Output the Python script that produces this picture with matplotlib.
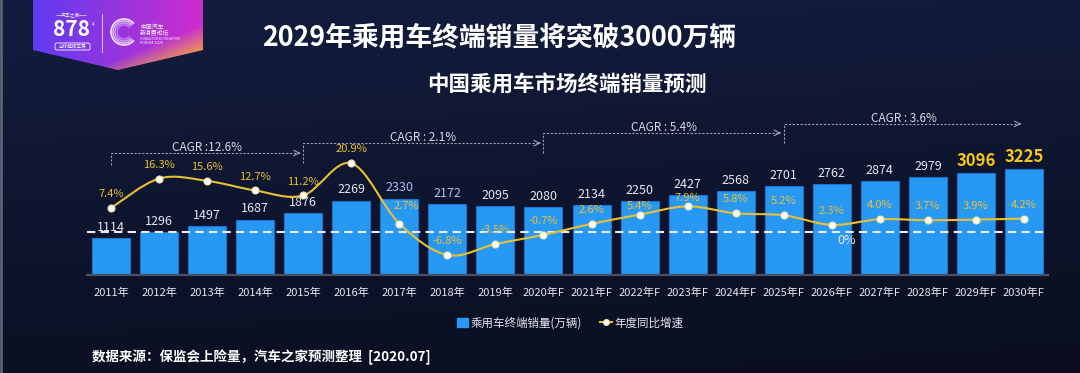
import numpy as np
import matplotlib.pyplot as plt
from matplotlib.path import Path
from matplotlib.patches import PathPatch, Polygon, Arc, FancyBboxPatch, Patch
from matplotlib.lines import Line2D

plt.rcParams['font.family'] = ['Noto Sans CJK SC', 'DejaVu Sans']

years = ["2011年", "2012年", "2013年", "2014年", "2015年", "2016年", "2017年",
         "2018年", "2019年", "2020年F", "2021年F", "2022年F", "2023年F", "2024年F",
         "2025年F", "2026年F", "2027年F", "2028年F", "2029年F", "2030年F"]
sales = [1114, 1296, 1497, 1687, 1876, 2269, 2330, 2172, 2095, 2080,
         2134, 2250, 2427, 2568, 2701, 2762, 2874, 2979, 3096, 3225]
growth = [7.4, 16.3, 15.6, 12.7, 11.2, 20.9, 2.7, -6.8, -3.5, -0.7,
          2.6, 5.4, 7.9, 5.8, 5.2, 2.3, 4.0, 3.7, 3.9, 4.2]
cagr_labels = ["CAGR :12.6%", "CAGR : 2.1%", "CAGR : 5.4%", "CAGR : 3.6%"]
cagr_from = [0, 4, 9, 14]
cagr_to = [4, 9, 14, 19]

W, H = 1080, 373
BAR = '#2898f5'
GOLD = '#e8c033'
TXT = '#e4e7ee'


def px(x, y):
    return x / W, 1 - y / H


def smooth_path(xs, ys):
    # excel-like smoothed line: catmull-rom as cubic bezier
    pts = list(zip(xs, ys))
    n = len(pts)
    verts = [pts[0]]
    codes = [Path.MOVETO]
    for i in range(n - 1):
        p0 = pts[max(i - 1, 0)]
        p1 = pts[i]
        p2 = pts[i + 1]
        p3 = pts[min(i + 2, n - 1)]
        c1 = (p1[0] + (p2[0] - p0[0]) / 6, p1[1] + (p2[1] - p0[1]) / 6)
        c2 = (p2[0] - (p3[0] - p1[0]) / 6, p2[1] - (p3[1] - p1[1]) / 6)
        verts += [c1, c2, p2]
        codes += [Path.CURVE4] * 3
    return Path(verts, codes)


fig = plt.figure(figsize=(W / 100, H / 100), dpi=100)

# background + logo, drawn in pixel coordinates
bg = fig.add_axes([0, 0, 1, 1], zorder=-5)
bg.set_xlim(0, W)
bg.set_ylim(H, 0)
bg.axis('off')
gy = np.linspace(0, 1, 200)[:, None]
gx = np.linspace(0, 1, 300)[None, :]
top = np.array([19, 29, 63]) / 255
bot = np.array([10, 14, 31]) / 255
t = (gy * 0.85 + gx * 0.15)[..., None]
grad = top * (1 - t) + bot * t
bg.imshow(grad, extent=(0, W, H, 0), aspect='auto')
bg.plot([1, 1], [0, H], color='#5a6274', lw=2)

# pennant logo
pen = Polygon([(33, 0), (203, 0), (203, 50), (118, 70), (33, 50)], closed=True,
              facecolor='none', edgecolor='none')
bg.add_patch(pen)
lx = np.linspace(0, 1, 120)[None, :]
ly = np.linspace(0, 1, 60)[:, None]
c_l = np.array([95, 60, 240]) / 255
c_r = np.array([205, 45, 205]) / 255
c_y = np.array([245, 170, 60]) / 255
base = c_l * (1 - lx[..., None]) + c_r * lx[..., None]
wy = np.clip((lx + ly - 1.35) * 2.2, 0, 1)[..., None]
logo = base * (1 - wy) + c_y * wy
im = bg.imshow(logo, extent=(33, 203, 70, 0), aspect='auto', zorder=2)
im.set_clip_path(pen)
bg.text(71, 15, "汽车之家", color='white', fontsize=3.5, ha='center', va='center', zorder=3)
bg.plot([56, 63], [15, 15], color='white', lw=0.4, zorder=3)
bg.plot([79, 86], [15, 15], color='white', lw=0.4, zorder=3)
bg.text(71, 29.5, "878", color='white', fontsize=15, weight='bold', style='italic',
        ha='center', va='center', zorder=3)
bg.text(92, 25, "4", color='white', fontsize=3.5, ha='left', va='center', zorder=3)
bg.add_patch(FancyBboxPatch((55, 43), 35, 7, boxstyle='round,pad=0,rounding_size=2',
                            facecolor='none', edgecolor='white', lw=0.6, zorder=3))
bg.text(72.5, 46.5, "全球超级车展", color='white', fontsize=3.3, ha='center', va='center', zorder=3)
bg.plot([102, 102], [14, 52], color='white', lw=0.6, alpha=0.8, zorder=3)
for r, a in [(26, 0.95), (22, 0.7), (18, 0.5), (14, 0.35)]:
    bg.add_patch(Arc((124, 32), r, r, theta1=40, theta2=320, color='white',
                     lw=1.1, alpha=a, zorder=3))
bg.text(140, 27, "中国汽车", color='white', fontsize=4.2, ha='left', va='center', zorder=3)
bg.text(140, 33.5, "新消费论坛", color='white', fontsize=4.2, ha='left', va='center', zorder=3)
bg.text(140, 38.5, "CHINA AUTO NEW CONSUMPTION", color='white', fontsize=1.8,
        ha='left', va='center', zorder=3)
bg.text(140, 43, "FORUM 2020", color='white', fontsize=2.8, ha='left', va='center', zorder=3)

# titles and source
fig.text(*px(499, 37), "2029年乘用车终端销量将突破3000万辆", color='white', fontsize=19.3,
         weight='bold', ha='center', va='center')
fig.text(*px(567, 85), "中国乘用车市场终端销量预测", color='white', fontsize=15.5,
         weight='bold', ha='center', va='center')
fig.text(*px(92, 357), "数据来源：保监会上险量，汽车之家预测整理  [2020.07]", color='white',
         fontsize=9.7, weight='bold', ha='left', va='center')

# main chart
ax = fig.add_axes([87 / W, (H - 275) / H, 961 / W, 175 / H])
ax.patch.set_alpha(0)
x = np.arange(len(years))
ax.bar(x, sales, width=0.79, color=BAR, edgecolor='#1c72cc', linewidth=0.8, zorder=2)
ax.set_xlim(-0.5, len(years) - 0.5)
ax.set_ylim(0, 5335)
for s in ['top', 'right', 'left']:
    ax.spines[s].set_visible(False)
ax.spines['bottom'].set_color('#4a5268')
ax.spines['bottom'].set_linewidth(1.6)
ax.set_yticks([])
ax.set_xticks(x)
ax.set_xticklabels(years, fontsize=8, color=TXT)
ax.tick_params(axis='x', length=0, pad=9)

for i, v in enumerate(sales):
    if i >= 18:
        ax.annotate(str(v), (i, v), xytext=(0, 2.5), textcoords='offset points',
                    ha='center', va='bottom', fontsize=12, weight='bold', color='#f5c51c')
    else:
        col = '#a9c3ee' if i in (6, 7) else TXT
        ax.annotate(str(v), (i, v), xytext=(0, 3), textcoords='offset points',
                    ha='center', va='bottom', fontsize=9, color=col)

ax2 = ax.twinx()
ax2.set_ylim(-12.84, 40.03)
ax2.axis('off')
ax2.axhline(0, color='#e8ecf4', lw=1.5, dashes=(4, 2.5), zorder=1)
ax2.add_patch(PathPatch(smooth_path(x, growth), facecolor='none', edgecolor=GOLD,
                        lw=1.5, zorder=3))
ax2.plot(x, growth, ls='none', marker='o', markersize=5, markerfacecolor='white',
         markeredgecolor='#f3e6b0', markeredgewidth=0.8, zorder=4)

offsets = {6: (5, 13), 11: (0, 6), 12: (0, 6)}
for i, g in enumerate(growth):
    dx, dy = offsets.get(i, (0, 10))
    ax2.annotate(f"{g:.1f}%", (i, g), xytext=(dx, dy), textcoords='offset points',
                 ha='center', va='center', fontsize=8, color=GOLD, zorder=5)
ax2.text(15.3, -2.3, "0%", color=TXT, fontsize=9, ha='center', va='center')

# CAGR brackets
levels = [24.0, 27.0, 30.1, 32.8]
drops = [3.6, 6.0, 6.0, 5.8]
for lab, a, b, lv, d in zip(cagr_labels, cagr_from, cagr_to, levels, drops):
    ax2.plot([a, a, b - 0.12], [lv - d, lv, lv], color='#9aa2b4', lw=0.8,
             ls=(0, (2, 1.5)), zorder=2)
    ax2.annotate('', xy=(b, lv), xytext=(b - 0.15, lv),
                 arrowprops=dict(arrowstyle='->', color='#9aa2b4', lw=0.8))
    ax2.text((a + b) / 2, lv + 1.6, lab, color='#d6dae2', fontsize=8.5,
             ha='center', va='center')

handles = [Patch(facecolor=BAR, edgecolor=BAR),
           Line2D([0], [0], color=GOLD, lw=1.5, marker='o', markersize=4,
                  markerfacecolor='white', markeredgecolor='#f3e6b0')]
fig.legend(handles, ["乘用车终端销量(万辆)", "年度同比增速"], loc='center',
           bbox_to_anchor=px(570, 323), ncol=2, frameon=False, fontsize=8.3,
           labelcolor=TXT, handlelength=1.0, handleheight=0.8, handletextpad=0.2,
           columnspacing=1.6)

plt.savefig("out.png", dpi=100)
